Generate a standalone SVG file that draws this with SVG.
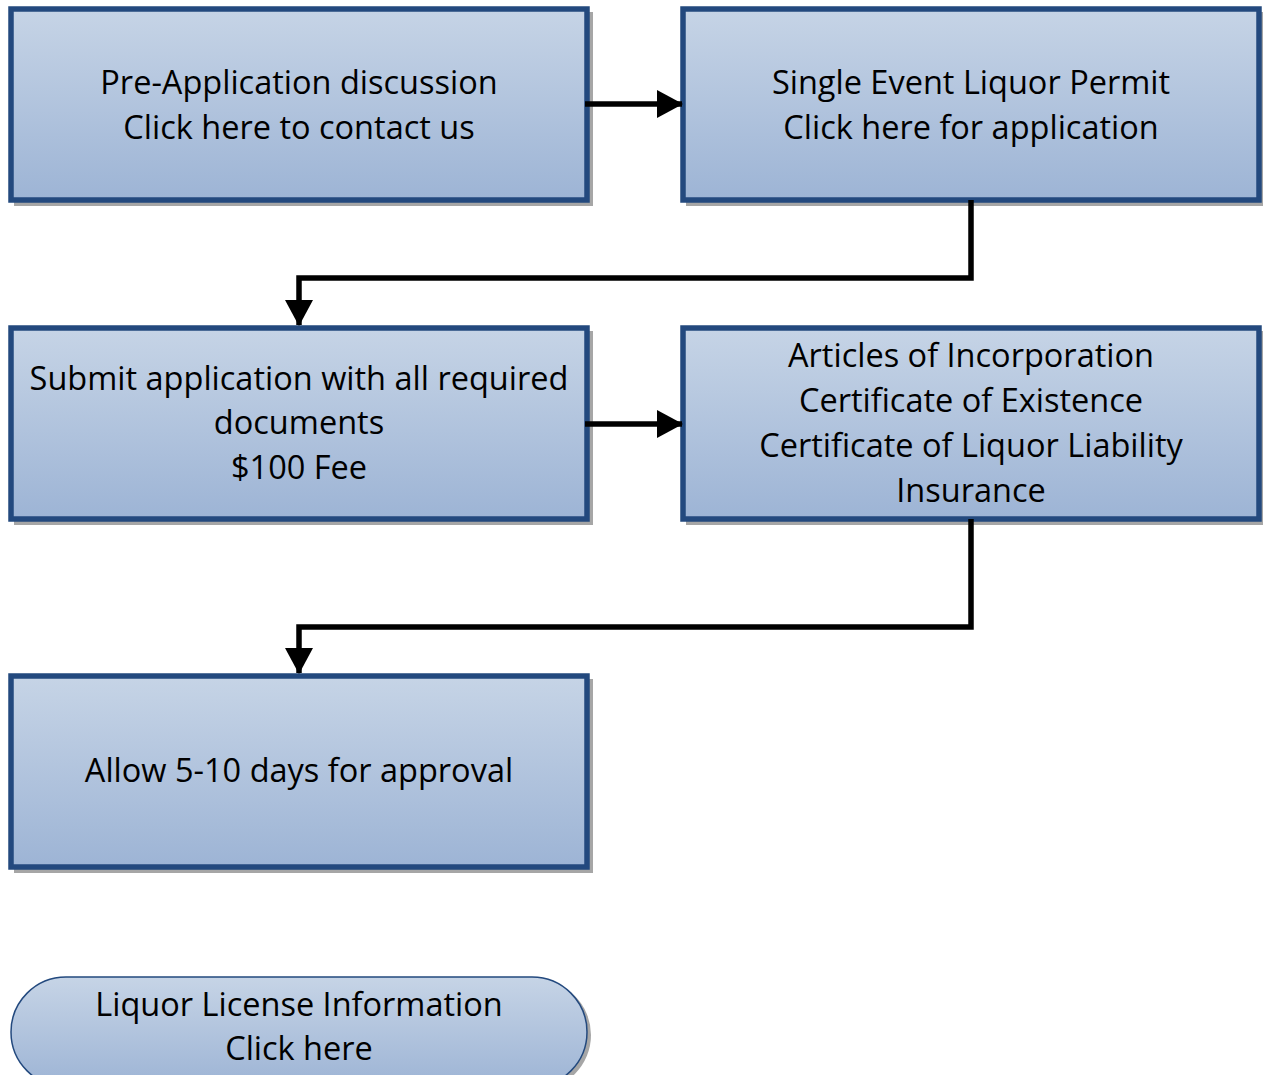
<svg xmlns="http://www.w3.org/2000/svg" width="1263" height="1075" viewBox="0 0 1263 1075">
<defs>
<linearGradient id="g" x1="0" y1="0" x2="0" y2="1">
<stop offset="0" stop-color="#C6D4E6"/>
<stop offset="1" stop-color="#9DB4D5"/>
</linearGradient>
<marker id="ah" markerUnits="userSpaceOnUse" markerWidth="26" markerHeight="28" viewBox="0 0 26 28" refX="25" refY="14" orient="auto">
<path d="M0,0 L26,14 L0,28 Z" fill="#000"/>
</marker>
<style>
.box{fill:url(#g);stroke:#23497E;stroke-width:5.5}
.sh{fill:#A6A6A6}
.t{font-family:"Open Sans","Liberation Sans",sans-serif;font-size:32.5px;fill:#000;text-anchor:middle}
.c{fill:none;stroke:#000;stroke-width:5.5;stroke-linejoin:miter}
</style>
</defs>
<g id="n1">
<rect class="sh" x="14" y="12" width="579" height="194"/>
<rect class="box" x="11" y="9" width="576" height="191"/>
<text class="t" x="299" y="94">Pre-Application discussion</text>
<text class="t" x="299" y="139">Click here to contact us</text>
</g>
<g id="n2">
<rect class="sh" x="686" y="12" width="579" height="194"/>
<rect class="box" x="683" y="9" width="576" height="191"/>
<text class="t" x="971" y="94">Single Event Liquor Permit</text>
<text class="t" x="971" y="139">Click here for application</text>
</g>
<g id="n3">
<rect class="sh" x="14" y="331" width="579" height="194"/>
<rect class="box" x="11" y="328" width="576" height="191"/>
<text class="t" x="299" y="390">Submit application with all required</text>
<text class="t" x="299" y="434">documents</text>
<text class="t" x="299" y="479">$100 Fee</text>
</g>
<g id="n4">
<rect class="sh" x="686" y="331" width="579" height="194"/>
<rect class="box" x="683" y="328" width="576" height="191"/>
<text class="t" x="971" y="367">Articles of Incorporation</text>
<text class="t" x="971" y="412">Certificate of Existence</text>
<text class="t" x="971" y="457">Certificate of Liquor Liability</text>
<text class="t" x="971" y="502">Insurance</text>
</g>
<g id="n5">
<rect class="sh" x="14" y="679" width="579" height="194"/>
<rect class="box" x="11" y="676" width="576" height="191"/>
<text class="t" x="299" y="782">Allow 5-10 days for approval</text>
</g>
<g id="n6">
<rect class="sh" x="14" y="980" width="577" height="110" rx="55"/>
<rect x="11" y="977" width="576" height="110" rx="55" fill="url(#g)" stroke="#23497E" stroke-width="1.5"/>
<text class="t" x="299" y="1016">Liquor License Information</text>
<text class="t" x="299" y="1060">Click here</text>
</g>
<g id="connectors">
<line class="c" x1="585" y1="104" x2="682" y2="104" marker-end="url(#ah)"/>
<polyline class="c" points="971,200 971,278 299,278 299,325" marker-end="url(#ah)"/>
<line class="c" x1="585" y1="424" x2="682" y2="424" marker-end="url(#ah)"/>
<polyline class="c" points="971,519 971,627 299,627 299,673" marker-end="url(#ah)"/>
</g>
</svg>
